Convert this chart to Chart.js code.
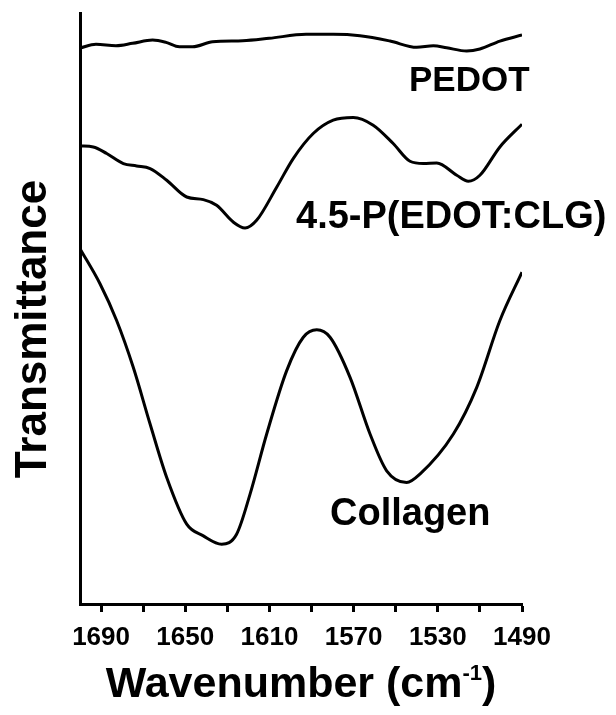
<!DOCTYPE html>
<html>
<head>
<meta charset="utf-8">
<script src="https://cdn.jsdelivr.net/npm/chart.js@4"></script>
<style>
  html, body { margin: 0; padding: 0; background: #fff; overflow: hidden; }
  canvas { display: block; }
</style>
</head>
<body>
<canvas id="ftir" width="616" height="715"></canvas>
<script>
// Spectra (x = wavenumber in cm-1, y = transmittance, arbitrary units)
const pedotX = [1700, 1692.4, 1682.9, 1675, 1665.5, 1659.1, 1652.8, 1646.5, 1637, 1622.7, 1610.1, 1592.6, 1579.7, 1567, 1552.7, 1540, 1532.1, 1525.8, 1516.3, 1510, 1500.5, 1490];
const pedotY = [555, 558.7, 557.3, 559.7, 563, 560.7, 556.3, 556.3, 561.3, 562.3, 564.7, 568.7, 568.7, 567.3, 562, 555.7, 557.3, 555.3, 552, 554, 562, 568];

const hybridX = [1700, 1693.7, 1687.3, 1679.4, 1673.1, 1666.7, 1658.8, 1649.3, 1641.4, 1635.1, 1627.2, 1621.6, 1616.1, 1606.5, 1598.7, 1589.2, 1579.7, 1570.2, 1560.7, 1551.2, 1543.2, 1536.9, 1530.5, 1521, 1515.5, 1510, 1500.5, 1490];
const hybridY = [457.3, 456.3, 449.7, 439.7, 437.3, 434.7, 423, 406.3, 403.7, 398, 381.3, 375.3, 383, 416.3, 444.7, 469.7, 483, 485.7, 478, 459.7, 442, 439.7, 440.3, 428, 422, 428, 456.3, 479];

const collagenX = [1700, 1690.5, 1682.6, 1674.7, 1666.7, 1658.8, 1649.3, 1641.4, 1632.7, 1625.6, 1619.2, 1611.3, 1601.8, 1593.9, 1587.5, 1581.2, 1571.7, 1562.2, 1554.3, 1544.8, 1538.5, 1522.6, 1511.5, 1500.5, 1490];
const collagenY = [354.7, 319.7, 283, 236.3, 179.7, 126.3, 79.7, 68, 59.7, 69.7, 109.7, 169.7, 233, 266.3, 273.7, 266.3, 226.3, 169.7, 133, 121.3, 129.7, 169.7, 216.3, 283, 331.3];

const seriesNames = ['PEDOT', '4.5-P(EDOT:CLG)', 'Collagen'];

// ticks every 20 cm-1, only every other one labelled
const tickValues = [1690, 1670, 1650, 1630, 1610, 1590, 1570, 1550, 1530, 1510, 1490];
const tickLabels = ['1690', '', '1650', '', '1610', '', '1570', '', '1530', '', '1490'];

const xTitle = 'Wavenumber (cm';
const xTitleSup = '-1';
const yTitle = 'Transmittance';

const FONT = '"Liberation Sans", Arial, Helvetica, sans-serif';

function toPoints(xs, ys) {
    return xs.map((x, i) => ({ x: x, y: ys[i] }));
}

function lineSet(label, xs, ys) {
    return {
        label: label,
        data: toPoints(xs, ys),
        borderColor: '#000',
        borderWidth: 3,
        pointRadius: 0,
        fill: false,
        cubicInterpolationMode: 'monotone'
    };
}

// draws the curve names and both axis titles (x title needs a superscript)
const textPlugin = {
    id: 'textPlugin',
    afterDraw(chart) {
        const ctx = chart.ctx;
        const area = chart.chartArea;
        ctx.save();
        ctx.fillStyle = '#000';
        ctx.textBaseline = 'alphabetic';
        ctx.textAlign = 'left';

        ctx.font = 'bold 35px ' + FONT;
        ctx.fillText(seriesNames[0], 409, 91);
        ctx.font = 'bold 38px ' + FONT;
        ctx.fillText(seriesNames[1], 296, 228);
        ctx.font = 'bold 38px ' + FONT;
        ctx.fillText(seriesNames[2], 330, 525);

        // x axis title
        const big = 'bold 43px ' + FONT;
        const small = 'bold 22px ' + FONT;
        ctx.font = big;
        const w1 = ctx.measureText(xTitle).width;
        const w3 = ctx.measureText(')').width;
        ctx.font = small;
        const w2 = ctx.measureText(xTitleSup).width;
        let x0 = (area.left + area.right) / 2 - (w1 + w2 + w3) / 2;
        const base = 697;
        ctx.font = big;
        ctx.fillText(xTitle, x0, base);
        ctx.font = small;
        ctx.fillText(xTitleSup, x0 + w1, base - 17);
        ctx.font = big;
        ctx.fillText(')', x0 + w1 + w2, base);

        // y axis title, rotated
        ctx.translate(46, 329);
        ctx.rotate(-Math.PI / 2);
        ctx.textAlign = 'center';
        ctx.font = 'bold 44px ' + FONT;
        ctx.fillText(yTitle, 0, 0);
        ctx.restore();
    }
};

const chart = new Chart(document.getElementById('ftir'), {
    type: 'line',
    data: {
        datasets: [
            lineSet(seriesNames[0], pedotX, pedotY),
            lineSet(seriesNames[1], hybridX, hybridY),
            lineSet(seriesNames[2], collagenX, collagenY)
        ]
    },
    options: {
        responsive: false,
        animation: false,
        layout: { padding: { left: 80, right: 94, top: 13, bottom: 51 } },
        plugins: {
            legend: { display: false },
            tooltip: { enabled: false }
        },
        scales: {
            x: {
                type: 'linear',
                min: 1490,
                max: 1700,
                reverse: true,
                afterBuildTicks(scale) {
                    scale.ticks = tickValues.map(v => ({ value: v }));
                },
                ticks: {
                    autoSkip: false,
                    maxRotation: 0,
                    padding: 13,
                    color: '#000',
                    font: { family: FONT, size: 26, weight: 'bold', lineHeight: 1 },
                    callback: function (value) {
                        const i = tickValues.indexOf(value);
                        return i >= 0 ? tickLabels[i] : '';
                    }
                },
                grid: {
                    display: true,
                    drawOnChartArea: false,
                    drawTicks: true,
                    tickLength: 8,
                    tickWidth: 3,
                    tickColor: '#000'
                },
                border: { display: true, color: '#000', width: 3 }
            },
            y: {
                min: 0,
                max: 590,
                ticks: { display: false },
                grid: { display: false, drawTicks: false },
                border: { display: true, color: '#000', width: 3 }
            }
        }
    },
    plugins: [textPlugin]
});
</script>
</body>
</html>
